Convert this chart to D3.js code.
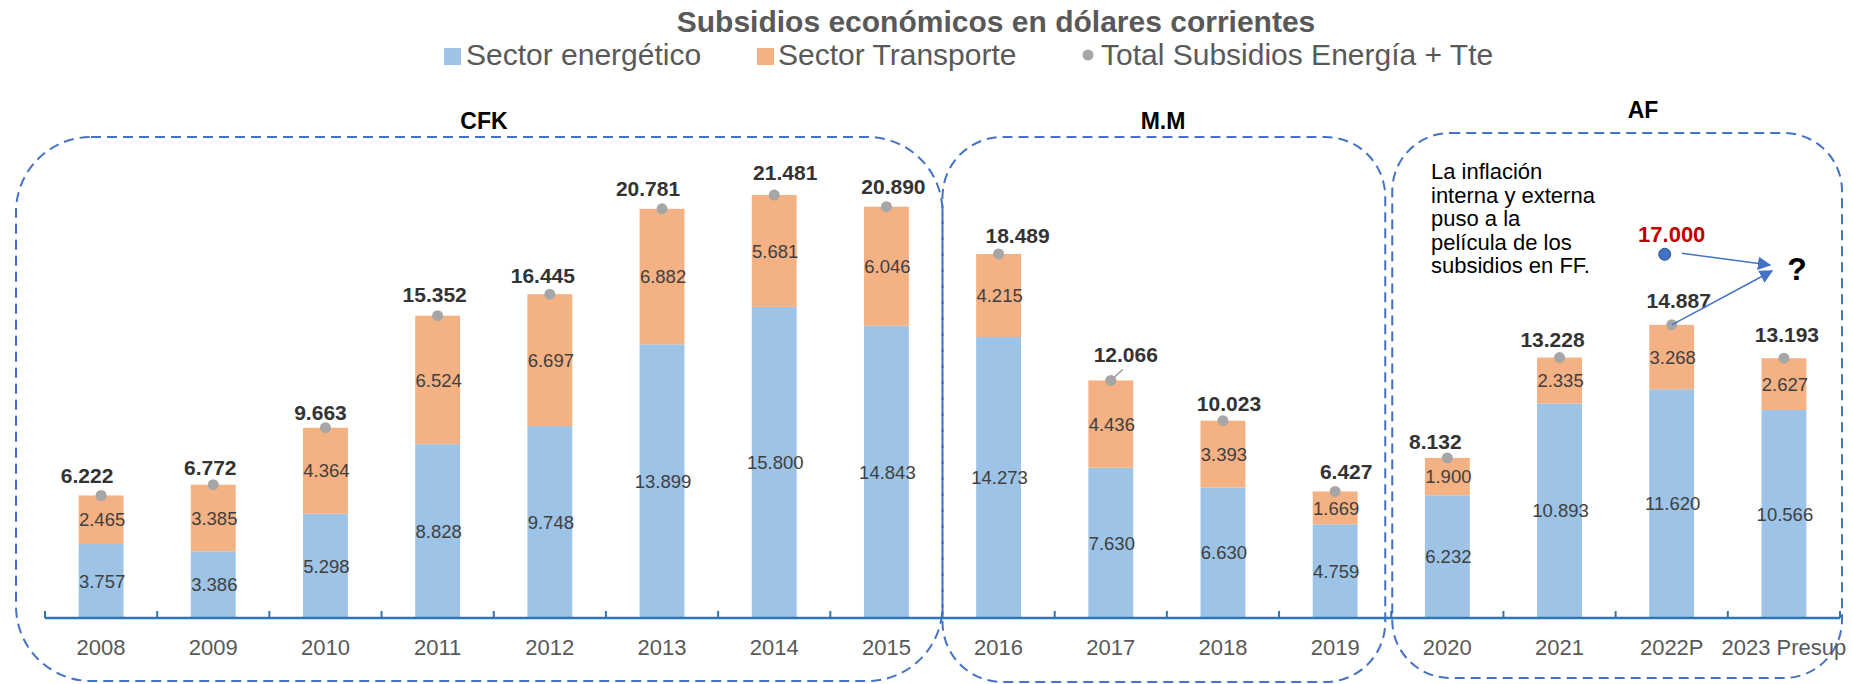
<!DOCTYPE html>
<html><head><meta charset="utf-8">
<script src="https://cdn.jsdelivr.net/npm/d3@7"></script>
<style>body{margin:0;background:#fff}</style>
</head><body><svg id="c" width="1852" height="684"></svg>
<script>
// ---------- DATA ----------
const categories = ["2008","2009","2010","2011","2012","2013","2014","2015","2016","2017","2018","2019","2020","2021","2022P","2023 Presup"];
const energia    = [3757,3386,5298,8828,9748,13899,15800,14843,14273,7630,6630,4759,6232,10893,11620,10566];
const transporte = [2465,3385,4364,6524,6697,6882,5681,6046,4215,4436,3393,1669,1900,2335,3268,2627];
const totales    = [6222,6772,9663,15352,16445,20781,21481,20890,18489,12066,10023,6427,8132,13228,14887,13193];
const seriesNames = ["Sector energético","Sector Transporte","Total Subsidios Energía + Tte"];
const title = "Subsidios económicos en dólares corrientes";
const periodNames = ["CFK","M.M","AF"];
const periodFirst = ["2008","2016","2020"];
const periodLast  = ["2015","2019","2023 Presup"];
const presupuesto = 17000;
const notaLines = ["La inflación","interna y externa","puso a la","película de los","subsidios en FF."];

// ---------- LAYOUT (label nudges, px) ----------
const labelDx = [-14,-3,-5,-3,-7,-14,11,7,19,15,6,11,-12,-7,7,3];
const labelDy = [12,10,8,14,11,13,15,13,11,18,10,12,9,11,17,16];

const font = "'Liberation Sans', Arial, Helvetica, sans-serif";
const C_EN = "#9DC3E6", C_TR = "#F4B183", C_DOT = "#A6A6A6", C_BOX = "#4472C4", C_AX = "#2E75B6";
const fmt = d3.formatLocale({decimal:",", thousands:".", grouping:[3], currency:["$",""]}).format(",d");

const svg = d3.select("#c");
svg.append("rect").attr("width",1852).attr("height",684).attr("fill","#fff");

const x = d3.scaleBand().domain(categories).range([45,1840]).paddingInner(0.6).paddingOuter(0.3);
const y = d3.scaleLinear().domain([0,22000]).range([618, 618-22000*0.01969]);
const cx = c => x(c) + x.bandwidth()/2;
const bL = c => cx(c) - x.step()/2;
const bR = c => cx(c) + x.step()/2;

// ---------- period boxes ----------
const boxes = [
  {x0: bL(periodFirst[0]) - 29, x1: bR(periodLast[0]), top:137, bottom:681, r:75, lx:484, ly:129},
  {x0: bL(periodFirst[1]),      x1: bR(periodLast[1]) - 6, top:137, bottom:682, r:60, lx:1163, ly:129},
  {x0: bL(periodFirst[2]) + 1,  x1: bR(periodLast[2]) + 2, top:133, bottom:678, r:58, lx:1643, ly:118}
];
boxes.forEach((b,i) => {
  svg.append("rect").attr("x",b.x0).attr("y",b.top).attr("width",b.x1-b.x0).attr("height",b.bottom-b.top)
    .attr("rx",b.r).attr("ry",b.r).attr("fill","none").attr("stroke",C_BOX)
    .attr("stroke-width",2).attr("stroke-dasharray","10,6");
  svg.append("text").attr("x",b.lx).attr("y",b.ly).attr("text-anchor","middle")
    .attr("font-family",font).attr("font-weight","bold").attr("font-size",23).attr("fill","#000")
    .text(periodNames[i]);
});

// ---------- title & legend ----------
svg.append("text").attr("x",996).attr("y",32).attr("text-anchor","middle")
  .attr("font-family",font).attr("font-weight","bold").attr("font-size",30).attr("fill","#595959")
  .text(title);

const lg = svg.append("g").attr("font-family",font).attr("font-size",30).attr("fill","#595959");
lg.append("rect").attr("x",444).attr("y",48).attr("width",17).attr("height",17).attr("fill",C_EN);
lg.append("text").attr("x",466).attr("y",65).text(seriesNames[0]);
lg.append("rect").attr("x",757).attr("y",48).attr("width",17).attr("height",17).attr("fill",C_TR);
lg.append("text").attr("x",778).attr("y",65).text(seriesNames[1]);
lg.append("circle").attr("cx",1088).attr("cy",55).attr("r",5.5).attr("fill",C_DOT);
lg.append("text").attr("x",1101).attr("y",65).text(seriesNames[2]);

// ---------- bars ----------
const rows = categories.map((c,i) => ({c, e:energia[i], t:transporte[i], tot:totales[i], i}));
const g = svg.append("g");
g.selectAll(".be").data(rows).join("rect")
  .attr("x",d=>x(d.c)).attr("width",x.bandwidth())
  .attr("y",d=>y(d.e)).attr("height",d=>y(0)-y(d.e)).attr("fill",C_EN);
g.selectAll(".bt").data(rows).join("rect")
  .attr("x",d=>x(d.c)).attr("width",x.bandwidth())
  .attr("y",d=>y(d.e+d.t)).attr("height",d=>y(d.e)-y(d.e+d.t)).attr("fill",C_TR);

// segment labels
const sl = svg.append("g").attr("font-family",font).attr("font-size",18.5).attr("fill","#404040").attr("text-anchor","middle");
sl.selectAll(".le").data(rows).join("text")
  .attr("x",d=>cx(d.c)+1).attr("y",d=>(y(0)+y(d.e))/2).attr("dy","0.36em").text(d=>fmt(d.e));
sl.selectAll(".lt").data(rows).join("text")
  .attr("x",d=>cx(d.c)+1).attr("y",d=>(y(d.e)+y(d.e+d.t))/2).attr("dy","0.36em").text(d=>fmt(d.t));

// ---------- axis ----------
const ax = svg.append("g");
ax.append("line").attr("x1",x.range()[0]).attr("x2",x.range()[1]).attr("y1",y(0)).attr("y2",y(0))
  .attr("stroke",C_AX).attr("stroke-width",2.5);
const bounds = categories.map(bL).concat([bR(categories[categories.length-1])]);
ax.selectAll(".tk").data(bounds).join("line")
  .attr("x1",d=>d).attr("x2",d=>d).attr("y1",y(0)).attr("y2",y(0)-7)
  .attr("stroke",C_AX).attr("stroke-width",2);
ax.selectAll(".xl").data(categories).join("text")
  .attr("x",d=>cx(d)).attr("y",655).attr("text-anchor","middle")
  .attr("font-family",font).attr("font-size",22).attr("fill","#595959").text(d=>d);

// ---------- total points & labels ----------
const i17 = categories.indexOf("2017");
svg.append("line").attr("x1",cx("2017")).attr("y1",y(totales[i17]))
  .attr("x2",cx("2017")+12).attr("y2",y(totales[i17])-11).attr("stroke","#A6A6A6").attr("stroke-width",1.5);
svg.selectAll(".dot").data(rows).join("circle")
  .attr("cx",d=>cx(d.c)).attr("cy",d=>y(d.tot)).attr("r",5.5).attr("fill",C_DOT);
svg.selectAll(".tl").data(rows).join("text")
  .attr("x",d=>cx(d.c)+labelDx[d.i]).attr("y",d=>y(d.tot)-labelDy[d.i]).attr("text-anchor","middle")
  .attr("font-family",font).attr("font-weight","bold").attr("font-size",21).attr("fill","#333")
  .text(d=>fmt(d.tot));

// ---------- annotation ----------
const nota = svg.append("text").attr("font-family",font).attr("font-size",22).attr("fill","#000");
notaLines.forEach((l,k)=> nota.append("tspan").attr("x",1431).attr("y",179+k*23.5).text(l));

const defs = svg.append("defs");
defs.append("marker").attr("id","ah").attr("viewBox","0 0 10 10").attr("refX",9).attr("refY",5)
  .attr("markerWidth",9).attr("markerHeight",9).attr("orient","auto-start-reverse")
  .append("path").attr("d","M0,0 L10,5 L0,10 z").attr("fill",C_BOX);

const i22 = categories.indexOf("2022P");
const px = cx("2022P") - 7, py = y(presupuesto) - 29;
svg.append("line").attr("x1",px+17).attr("y1",py-1).attr("x2",1770).attr("y2",265)
  .attr("stroke",C_BOX).attr("stroke-width",1.5).attr("marker-end","url(#ah)");
svg.append("line").attr("x1",cx("2022P")).attr("y1",y(totales[i22])).attr("x2",1772).attr("y2",271)
  .attr("stroke",C_BOX).attr("stroke-width",1.5).attr("marker-end","url(#ah)");
svg.append("circle").attr("cx",px).attr("cy",py).attr("r",6).attr("fill","#4472C4").attr("stroke","#2F528F").attr("stroke-width",1);
svg.append("text").attr("x",px+7).attr("y",py-12).attr("text-anchor","middle")
  .attr("font-family",font).attr("font-weight","bold").attr("font-size",22).attr("fill","#C00000").text(fmt(presupuesto));
svg.append("text").attr("x",1797).attr("y",280).attr("text-anchor","middle")
  .attr("font-family",font).attr("font-weight","bold").attr("font-size",32).attr("fill","#000").text("?");
</script></body></html>
